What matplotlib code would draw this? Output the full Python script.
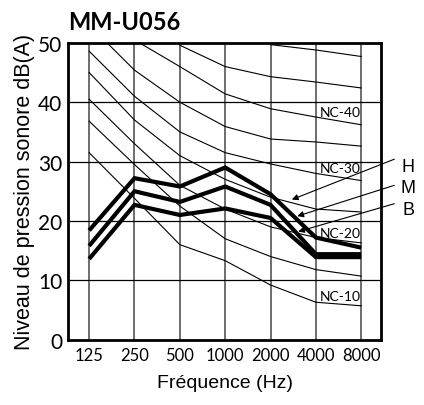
import numpy as np
import matplotlib
matplotlib.use("Agg")
import matplotlib.pyplot as plt

freq_labels = ['125', '250', '500', '1000', '2000', '4000', '8000']
nan = np.nan

# Thick measured curves
H = [18.4, 27.2, 25.8, 29.0, 24.5, 17.2, 15.5]
M = [15.8, 25.0, 23.2, 25.8, 22.7, 14.4, 14.4]
B = [13.6, 22.7, 21.0, 22.1, 20.5, 13.9, 13.9]

# NC reference curves
nc10 = [31.5, 23.8, 16.0, 13.3, 9.2, 6.3, 5.7]
nc15 = [36.8, 29.5, 22.5, 17.0, 14.0, 11.8, 10.7]
nc20 = [40.5, 33.0, 26.0, 22.0, 19.0, 17.2, 16.3]
nc25 = [45.0, 37.0, 31.0, 27.0, 24.0, 22.0, 21.5]
nc30 = [48.6, 41.0, 35.0, 31.5, 29.6, 28.0, 26.8]
nc35 = [53.0, 45.4, 40.0, 35.9, 33.8, 33.3, 32.6]
nc40 = [nan, 50.5, 46.0, 41.4, 38.9, 37.5, 36.2]
nc45 = [nan, nan, 49.6, 46.0, 44.3, 43.4, 42.4]
nc50 = [nan, nan, nan, nan, 49.7, 48.8, 47.7]
nc_curves = [nc10, nc15, nc20, nc25, nc30, nc35, nc40, nc45, nc50]

nc_labels = ['NC-40', 'NC-30', 'NC-20', 'NC-10']
nc_label_y = [38.4, 28.9, 17.9, 7.3]

series_labels = ['H', 'M', 'B']
series_label_y = [29.2, 25.6, 22.0]
arrow_tail_y = [30.4, 26.0, 22.9]
arrow_head = [(4.47, 23.6), (4.59, 20.8), (4.61, 18.2)]

fig = plt.figure(figsize=(4.24, 4.06), dpi=100)
ax = fig.add_axes([0.160, 0.161, 0.739, 0.731])

x = np.arange(len(freq_labels))

ax.set_xlim(-0.47, 6.44)
ax.set_ylim(0, 50)

# grid
for xi in x:
    ax.axvline(xi, color='#555555', lw=1.2, zorder=1)
for yv in [10, 20, 30, 40]:
    ax.axhline(yv, color='black', lw=0.9, zorder=1)

for c in nc_curves:
    ax.plot(x, c, color='black', lw=0.8, zorder=2)

for s in [H, M, B]:
    ax.plot(x, s, color='black', lw=3.0, zorder=3, solid_joinstyle='miter', solid_capstyle='butt')

for lab, yv in zip(nc_labels, nc_label_y):
    ax.text(5.53, yv, lab, ha='center', va='center', fontsize=10, family='Lato', zorder=2)

for lab, ly, ty, hd in zip(series_labels, series_label_y, arrow_tail_y, arrow_head):
    ax.text(7.04, ly, lab, ha='center', va='center', fontsize=13,
            family='Liberation Sans', clip_on=False)
    ax.annotate('', xy=hd, xytext=(6.73, ty),
                arrowprops=dict(arrowstyle='-|>', color='black', lw=0.8,
                                mutation_scale=9, shrinkA=0, shrinkB=0),
                annotation_clip=False, zorder=4)

ax.set_xticks(x)
ax.set_xticklabels(freq_labels, family='Lato', fontsize=12)
ax.set_yticks([0, 10, 20, 30, 40, 50])
ax.set_yticklabels(['0', '10', '20', '30', '40', '50'], family='Lato', fontsize=15)
ax.tick_params(length=0, pad=5)
ax.tick_params(axis='y', pad=4)

for sp in ax.spines.values():
    sp.set_linewidth(2.0)

ax.set_ylabel('Niveau de pression sonore dB(A)', family='Liberation Sans', fontsize=15.5, labelpad=2)
ax.set_xlabel('Fréquence (Hz)', family='Liberation Sans', fontsize=14, labelpad=8)

fig.text(0.160, 0.925, 'MM-U056', family='Lato', fontweight='bold', fontsize=17, ha='left', va='baseline')

fig.savefig('out.png', dpi=100)
